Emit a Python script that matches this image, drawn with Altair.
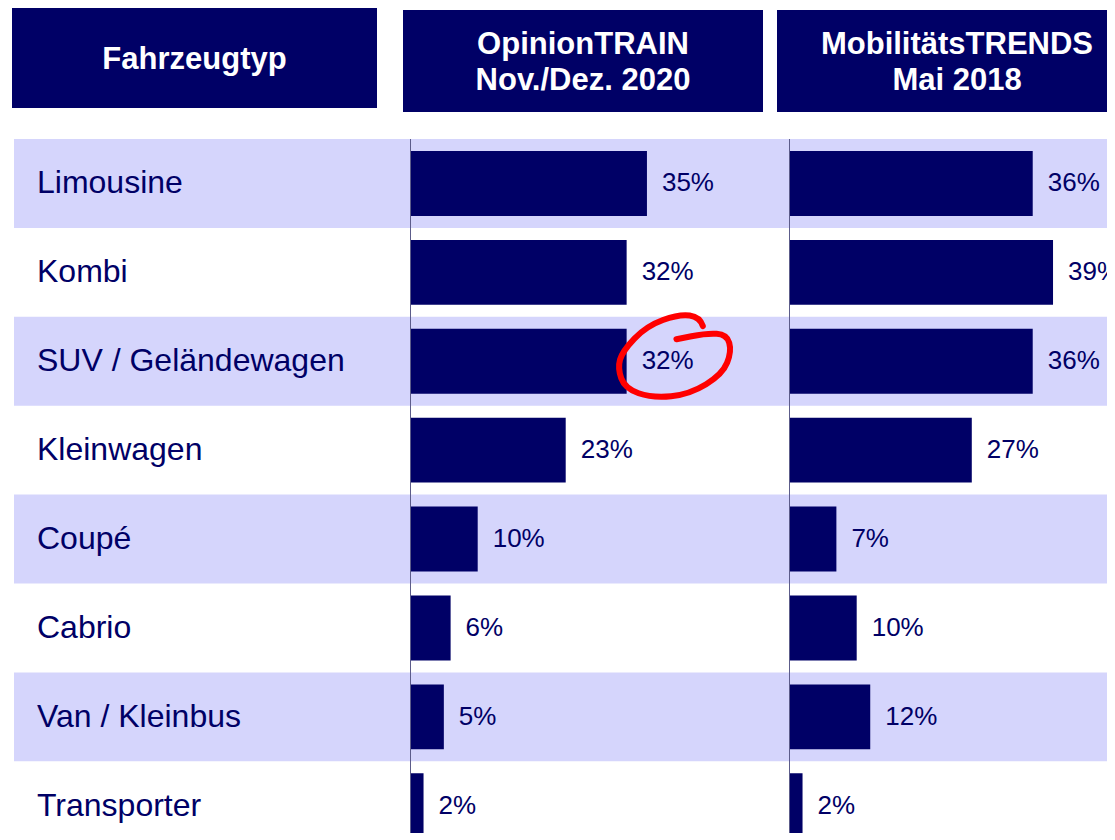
import altair as alt
import pandas as pd

# ---- data ----
categories = ["Limousine", "Kombi", "SUV / Geländewagen", "Kleinwagen",
              "Coupé", "Cabrio", "Van / Kleinbus", "Transporter"]
values_2020 = [35, 32, 32, 23, 10, 6, 5, 2]
values_2018 = [36, 39, 36, 27, 7, 10, 12, 2]
header_labels = ["Fahrzeugtyp", "OpinionTRAIN\nNov./Dez. 2020", "MobilitätsTRENDS\nMai 2018"]
highlight_category = "SUV / Geländewagen"
highlight_value = 32

# ---- style ----
NAVY = "#000066"
BAND = "#d5d5fc"
AXIS = "#5c5c8a"
RED = "#ff0000"
FONT = "Liberation Sans"
ROW_H = 88.9
H_FULL = ROW_H * len(categories)
HV = 694           # visible height of the row area (cut at the bottom, as in the reference)
LABEL_W = 402
PANEL_W = 379
PANEL2_W = 1099 - LABEL_W - PANEL_W
XMAX = PANEL_W / 6.77

rows = pd.DataFrame({
    "cat": categories,
    "v2020": values_2020,
    "v2018": values_2018,
})
rows["shade"] = [i % 2 == 0 for i in range(len(categories))]
rows["l2020"] = rows["v2020"].astype(str) + "%"
rows["l2018"] = rows["v2018"].astype(str) + "%"

yscale = alt.Scale(paddingInner=0, paddingOuter=0, range=[0, H_FULL])
y_enc = alt.Y("cat:N", sort=categories, scale=yscale, axis=None)

# hand-drawn ring glyph (unit square -1..1)
ring_pts = [(0.47, -0.52), (0.42, -0.67), (0.08, -0.72), (-0.47, -0.52),
            (-0.87, -0.10), (-0.95, 0.18), (-0.83, 0.52), (-0.37, 0.68),
            (0.25, 0.62), (0.80, 0.28), (0.95, -0.10), (0.87, -0.38),
            (0.53, -0.40), (0.03, -0.30)]
def fmt(p):
    return f"{p[0]:.3f},{p[1]:.3f}"
path = "M" + fmt(ring_pts[0])
for i in range(1, len(ring_pts) - 1):
    m = ((ring_pts[i][0] + ring_pts[i + 1][0]) / 2, (ring_pts[i][1] + ring_pts[i + 1][1]) / 2)
    path += "Q" + fmt(ring_pts[i]) + " " + fmt(m)
path += "L" + fmt(ring_pts[-1])

TOTAL_W = LABEL_W + PANEL_W + PANEL2_W

# ---- header ----
hdr_parts = []
boxes = [(4, 369, 0, 100), (395, 755, 2, 104), (769, TOTAL_W, 2, 104)]
centers = [(186.5, 52), (575, 37), (949, 37)]
for lab, (x0, x1, y0, y1), (cx, cy) in zip(header_labels, boxes, centers):
    d = pd.DataFrame({"t": [lab]})
    hdr_parts.append(alt.Chart(d).mark_rect(color=NAVY).encode(
        x=alt.value(x0), x2=alt.value(x1), y=alt.value(y0), y2=alt.value(y1)))
    hdr_parts.append(alt.Chart(d).mark_text(
        color="white", font=FONT, fontWeight="bold", fontSize=31,
        lineBreak="\n", lineHeight=36, align="center", baseline="middle").encode(
        x=alt.value(cx), y=alt.value(cy), text="t:N"))
header = alt.layer(*hdr_parts).properties(width=TOTAL_W, height=104)

# ---- label column ----
base = alt.Chart(rows)
lab_band = base.mark_rect(color=BAND, clip=True).encode(
    y=y_enc, x=alt.value(6), x2=alt.value(LABEL_W)).transform_filter("datum.shade")
lab_text = base.mark_text(align="left", baseline="middle", font=FONT, fontSize=32,
                          color=NAVY, clip=True).encode(y=y_enc, x=alt.value(29), text="cat:N")
label_panel = alt.layer(lab_band, lab_text).properties(width=LABEL_W, height=HV)


def panel(col, lab, width, ring=False):
    xscale = alt.Scale(domain=[0, XMAX * width / PANEL_W], nice=False, zero=True)
    band = base.mark_rect(color=BAND, clip=True).encode(
        y=y_enc, x=alt.value(0), x2=alt.value(width)).transform_filter("datum.shade")
    bars = base.mark_bar(color=NAVY, clip=True,
                         height=alt.RelativeBandSize(band=0.73)).encode(
        x=alt.X(f"{col}:Q", scale=xscale, axis=None), y=y_enc)
    txt = base.mark_text(align="left", baseline="middle", dx=15, font=FONT,
                         fontSize=26, color=NAVY, clip=True).encode(
        x=alt.X(f"{col}:Q", scale=xscale, axis=None), y=y_enc, text=f"{lab}:N")
    layers = [band, bars, txt]
    if ring:
        rd = pd.DataFrame({"cat": [highlight_category], "v": [highlight_value]})
        layers.append(alt.Chart(rd).mark_point(
            shape=path, size=14400, filled=False, color=RED, stroke=RED,
            strokeWidth=6, opacity=1, strokeCap="round", strokeJoin="round",
            xOffset=48, yOffset=-4).encode(
            x=alt.X("v:Q", scale=xscale, axis=None), y=y_enc))
    axis_line = base.mark_rule(color=AXIS, strokeWidth=1).encode(
        x=alt.value(0.5), y=alt.value(0), y2=alt.value(HV))
    layers.append(axis_line)
    return alt.layer(*layers).properties(width=width, height=HV)


p1 = panel("v2020", "l2020", PANEL_W, ring=True)
p2 = panel("v2018", "l2018", PANEL2_W)

body = alt.hconcat(label_panel, p1, p2, spacing=0, bounds="flush")
chart = alt.vconcat(header, body, spacing=26).properties(
    padding=0).configure_view(stroke=None)

chart.save("out.html", embed_options={"renderer": "svg", "actions": False})
